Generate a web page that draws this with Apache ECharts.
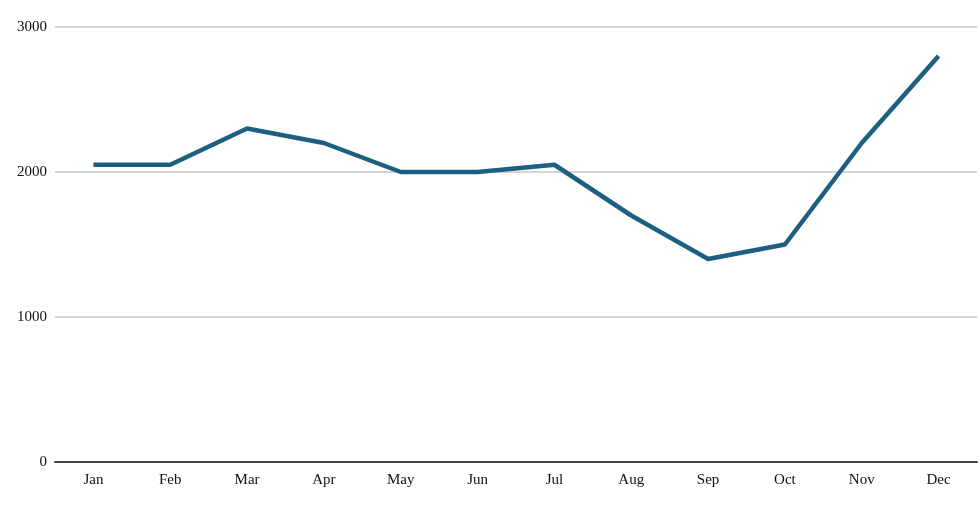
<!DOCTYPE html>
<html><head><meta charset="utf-8">
<script src="https://cdn.jsdelivr.net/npm/echarts@6/dist/echarts.min.js"></script>
<style>html,body{margin:0;padding:0;background:#fff}#c{width:980px;height:511px}</style>
</head><body><div id="c"></div>
<script>
const categories = ['Jan','Feb','Mar','Apr','May','Jun','Jul','Aug','Sep','Oct','Nov','Dec'];
const values = [2050, 2050, 2300, 2200, 2000, 2000, 2050, 1700, 1400, 1500, 2200, 2800];
const chart = echarts.init(document.getElementById('c'));
chart.setOption({
  animation: false,
  grid: {left: 55, right: 3, top: 27, bottom: 49},
  xAxis: {
    type: 'category', data: categories, boundaryGap: true,
    axisLine: {lineStyle: {color: '#444', width: 2}},
    axisTick: {show: false},
    axisLabel: {color: '#111', fontFamily: 'Liberation Serif', fontSize: 15, margin: 11}
  },
  yAxis: {
    type: 'value', min: 0, max: 3000, interval: 1000,
    axisLine: {show: false}, axisTick: {show: false},
    splitLine: {lineStyle: {color: '#c8c8c8', width: 1.5}},
    axisLabel: {color: '#111', fontFamily: 'Liberation Serif', fontSize: 15, margin: 8,
      formatter: v => String(v)}
  },
  series: [{
    type: 'line', data: values, symbol: 'none',
    lineStyle: {color: '#1d5f80', width: 4.5}
  }]
});
</script></body></html>
